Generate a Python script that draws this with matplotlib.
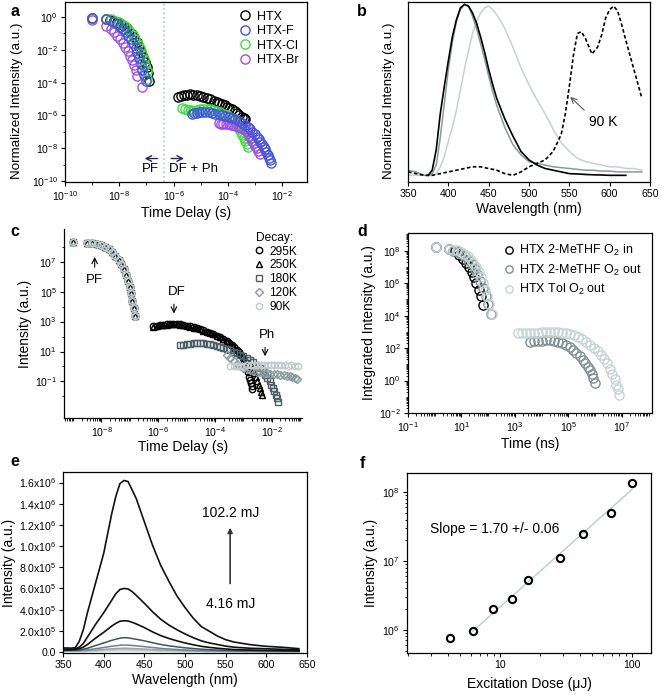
import numpy as np
import matplotlib
matplotlib.use("Agg")
import matplotlib.pyplot as plt
from matplotlib.ticker import FixedLocator, NullFormatter, LogLocator, FixedFormatter

plt.rcParams["font.family"] = ["Liberation Sans", "DejaVu Sans"]
plt.rcParams["mathtext.fontset"] = "custom"
plt.rcParams["mathtext.rm"] = "Liberation Sans"
plt.rcParams["mathtext.it"] = "Liberation Sans:italic"
plt.rcParams["mathtext.bf"] = "Liberation Sans:bold"
plt.rcParams["axes.linewidth"] = 0.9
plt.rcParams["xtick.labelsize"] = 7.6
plt.rcParams["ytick.labelsize"] = 7.6
plt.rcParams["xtick.major.size"] = 3
plt.rcParams["ytick.major.size"] = 3
plt.rcParams["xtick.minor.size"] = 1.8
plt.rcParams["ytick.minor.size"] = 1.8
plt.rcParams["xtick.major.pad"] = 2
plt.rcParams["ytick.major.pad"] = 2

LABEL = 10

# -----------------------------
# Panel a data (log10 time / log10 intensity), PF then DF+Ph
# -----------------------------
a_htx_t = [-8.99, -8.49, -8.34, -8.19, -8.07, -7.94, -7.82, -7.72, -7.63, -7.54, -7.45, -7.35, -7.27, -7.20, -7.11, -7.05, -6.99, -6.95, -6.90,
           -5.82, -5.72, -5.62, -5.51, -5.39, -5.27, -5.14, -5.02, -4.90, -4.78, -4.65, -4.52, -4.40, -4.31, -4.22, -4.12, -4.03, -3.94, -3.85, -3.75, -3.66, -3.57, -3.48, -3.42, -3.36]
a_htx_i = [-0.08, -0.12, -0.18, -0.24, -0.33, -0.43, -0.55, -0.69, -0.85, -1.04, -1.24, -1.50, -1.81, -2.11, -2.42, -2.72, -3.03, -3.40, -3.90,
           -4.86, -4.80, -4.76, -4.73, -4.72, -4.73, -4.76, -4.81, -4.86, -4.94, -5.02, -5.09, -5.16, -5.23, -5.30, -5.38, -5.47, -5.55, -5.63, -5.72, -5.83, -5.95, -6.08, -6.16, -6.24]

a_htxcl_t = [-8.99, -8.49, -8.30, -8.15, -8.02, -7.90, -7.78, -7.68, -7.59, -7.50, -7.41, -7.32, -7.24, -7.17, -7.10, -7.04, -6.99, -6.96,
             -5.70, -5.58, -5.45, -5.36, -5.27, -5.14, -5.02, -4.90, -4.77, -4.65, -4.53, -4.40, -4.28, -4.15, -4.03, -3.94, -3.85, -3.77, -3.69, -3.63, -3.57, -3.51, -3.46, -3.41, -3.36, -3.31, -3.27]
a_htxcl_i = [-0.05, -0.10, -0.15, -0.22, -0.32, -0.44, -0.58, -0.74, -0.92, -1.12, -1.35, -1.62, -1.92, -2.25, -2.58, -2.92, -3.30, -3.75,
             -5.57, -5.62, -5.67, -5.69, -5.71, -5.67, -5.63, -5.61, -5.59, -5.63, -5.67, -5.73, -5.79, -5.88, -5.98, -6.08, -6.18, -6.33, -6.48, -6.66, -6.85, -7.02, -7.20, -7.37, -7.54, -7.72, -7.91]

a_htxf_t = [-8.99, -8.49, -8.24, -8.09, -7.97, -7.85, -7.75, -7.66, -7.58, -7.48, -7.39, -7.33, -7.26, -7.20, -7.15, -7.08, -7.01,
            -5.33, -5.24, -5.14, -5.05, -4.96, -4.84, -4.71, -4.58, -4.46, -4.34, -4.22, -4.10, -3.97, -3.85, -3.73, -3.60, -3.48, -3.37, -3.27, -3.18, -3.09, -3.01, -2.93, -2.86, -2.80, -2.74, -2.68, -2.63, -2.58, -2.53, -2.49, -2.44, -2.39]
a_htxf_i = [-0.08, -0.12, -0.33, -0.43, -0.59, -0.75, -0.94, -1.14, -1.36, -1.61, -1.91, -2.22, -2.52, -2.87, -3.23, -3.54, -3.90,
            -5.88, -5.86, -5.83, -5.80, -5.77, -5.79, -5.81, -5.84, -5.88, -5.92, -5.96, -6.02, -6.08, -6.16, -6.24, -6.34, -6.44, -6.56, -6.69, -6.84, -6.99, -7.14, -7.30, -7.45, -7.60, -7.75, -7.91, -8.06, -8.21, -8.38, -8.56, -8.74, -8.92]

a_htxbr_t = [-8.99, -8.49, -8.31, -8.19, -8.07, -7.97, -7.87, -7.78, -7.69, -7.60, -7.52, -7.45, -7.39, -7.33, -7.17,
             -4.34, -4.25, -4.16, -4.06, -3.97, -3.88, -3.79, -3.70, -3.60, -3.51, -3.42, -3.34, -3.27, -3.21, -3.15, -3.09, -3.03, -2.98, -2.93, -2.88, -2.83]
a_htxbr_i = [-0.18, -0.55, -0.73, -0.94, -1.14, -1.34, -1.56, -1.81, -2.07, -2.36, -2.62, -2.93, -3.23, -3.60, -4.29,
             -6.48, -6.51, -6.54, -6.53, -6.52, -6.55, -6.59, -6.64, -6.69, -6.77, -6.85, -6.96, -7.09, -7.24, -7.40, -7.55, -7.70, -7.85, -8.01, -8.18, -8.35]

# -----------------------------
# Panel b data (normalized spectra)
# -----------------------------
b_wl = [350, 360, 370, 375, 380, 385, 390, 395, 400, 405, 410, 415, 420, 425, 430, 435, 440, 445, 450, 455, 460,
        470, 480, 490, 500, 510, 520, 530, 540, 550, 560, 570, 580, 590, 600, 610, 620, 630, 640]
b_black = [np.nan, np.nan, np.nan, 0.0, 0.03, 0.15, 0.36, 0.52, 0.67, 0.81, 0.91, 0.98, 1.0, 0.99, 0.95, 0.89, 0.81, 0.72, 0.62, 0.53, 0.45,
           0.33, 0.23, 0.14, 0.09, 0.06, 0.04, 0.03, 0.02, 0.01, 0.008, 0.005, 0.003, 0.002, 0.0, 0.0, 0.0, np.nan, np.nan]
b_gray = [0.03, 0.02, 0.0, 0.0, 0.01, 0.06, 0.22, 0.42, 0.62, 0.78, 0.90, 0.97, 1.0, 0.99, 0.93, 0.86, 0.77, 0.68, 0.58, 0.49, 0.41,
          0.28, 0.18, 0.12, 0.08, 0.07, 0.06, 0.05, 0.045, 0.04, 0.035, 0.03, 0.03, 0.025, 0.025, 0.02, 0.02, 0.02, 0.02]
b_light = [0.0, 0.0, 0.0, 0.0, 0.0, 0.01, 0.05, 0.11, 0.20, 0.28, 0.38, 0.50, 0.62, 0.73, 0.83, 0.90, 0.95, 0.98, 0.99, 0.97, 0.94,
           0.86, 0.75, 0.63, 0.53, 0.44, 0.36, 0.27, 0.19, 0.14, 0.10, 0.08, 0.07, 0.06, 0.05, 0.05, 0.04, 0.04, 0.03]
b_90k_wl = [350, 360, 370, 380, 390, 400, 410, 420, 430, 440, 450, 460, 470, 480, 490, 500, 510, 520, 530, 540, 545, 550, 555,
            560, 565, 570, 578, 585, 590, 595, 600, 605, 610, 615, 620, 630, 640]
b_90k = [0.02, 0.01, 0.0, 0.0, 0.01, 0.02, 0.03, 0.04, 0.05, 0.05, 0.04, 0.03, 0.01, 0.0, 0.02, 0.05, 0.07, 0.09, 0.14, 0.24, 0.36, 0.52, 0.70,
         0.83, 0.84, 0.80, 0.71, 0.75, 0.82, 0.92, 0.97, 0.99, 0.96, 0.88, 0.79, 0.62, 0.45]

# -----------------------------
# Panel c data (log10)
# -----------------------------
c_pf_t = [-9.00, -8.51, -8.32, -8.15, -8.00, -7.87, -7.74, -7.62, -7.51, -7.40, -7.31, -7.22, -7.14, -7.07, -7.01, -6.95, -6.91, -6.86, -6.82]
c_pf_i = [8.33, 8.27, 8.22, 8.18, 8.11, 8.00, 7.84, 7.64, 7.40, 7.11, 6.82, 6.49, 6.11, 5.73, 5.33, 4.89, 4.40, 3.89, 3.38]

c_295_t = [-6.18, -6.06, -5.94, -5.82, -5.71, -5.59, -5.47, -5.35, -5.24, -5.12, -5.00, -4.88, -4.76, -4.65, -4.53, -4.41, -4.29, -4.18, -4.06, -3.94,
           -3.82, -3.71, -3.59, -3.50, -3.41, -3.32, -3.24, -3.16, -3.09, -3.03, -2.98, -2.93, -2.88, -2.84, -2.80, -2.77, -2.74, -2.71, -2.69]
c_295_i = [2.67, 2.73, 2.78, 2.80, 2.82, 2.83, 2.84, 2.83, 2.82, 2.77, 2.71, 2.67, 2.62, 2.56, 2.49, 2.41, 2.33, 2.25, 2.16, 2.06,
           1.96, 1.84, 1.71, 1.58, 1.44, 1.28, 1.11, 0.95, 0.78, 0.55, 0.33, 0.11, -0.11, -0.39, -0.67, -0.89, -1.11, -1.31, -1.51]

c_250_t = [-6.18, -6.06, -5.94, -5.82, -5.71, -5.59, -5.47, -5.35, -5.24, -5.12, -5.00, -4.88, -4.76, -4.65, -4.53, -4.41, -4.29, -4.18, -4.06, -3.94,
           -3.82, -3.71, -3.59, -3.50, -3.41, -3.32, -3.24, -3.16, -3.09, -3.00, -2.91, -2.82, -2.74, -2.68, -2.62, -2.56, -2.51, -2.46, -2.42, -2.38, -2.35]
c_250_i = [2.62, 2.70, 2.75, 2.78, 2.80, 2.81, 2.82, 2.81, 2.80, 2.75, 2.70, 2.65, 2.60, 2.54, 2.47, 2.39, 2.31, 2.22, 2.14, 2.04,
           1.94, 1.82, 1.69, 1.56, 1.42, 1.26, 1.10, 0.99, 0.89, 0.70, 0.44, 0.22, 0.0, -0.22, -0.44, -0.72, -1.00, -1.22, -1.45, -1.70, -1.93]

c_180_t = [-5.24, -5.12, -5.00, -4.88, -4.76, -4.65, -4.53, -4.41, -4.29, -4.18, -4.06, -3.94, -3.82, -3.71, -3.59, -3.47, -3.35, -3.24,
           -3.12, -3.00, -2.88, -2.77, -2.65, -2.53, -2.41, -2.32, -2.24, -2.16, -2.08, -2.02, -1.96, -1.91, -1.87, -1.83, -1.80]
c_180_i = [1.44, 1.46, 1.49, 1.53, 1.56, 1.56, 1.56, 1.54, 1.51, 1.48, 1.44, 1.39, 1.33, 1.26, 1.18, 1.09, 1.00, 0.89,
           0.78, 0.67, 0.56, 0.42, 0.27, 0.08, -0.11, -0.33, -0.56, -0.78, -1.00, -1.22, -1.44, -1.67, -1.89, -2.13, -2.38]

c_120_t = [-3.59, -3.47, -3.35, -3.24, -3.12, -3.00, -2.88, -2.77, -2.65, -2.53, -2.41, -2.29, -2.18, -2.06, -1.94, -1.82, -1.71, -1.59, -1.47, -1.38, -1.29, -1.20, -1.12]
c_120_i = [0.75, 0.55, 0.35, 0.15, 0.02, -0.10, -0.18, -0.24, -0.29, -0.34, -0.38, -0.41, -0.44, -0.47, -0.49, -0.52, -0.56, -0.59, -0.62, -0.66, -0.71, -0.76, -0.82]

c_90_t = [-3.47, -3.35, -3.23, -3.11, -2.99, -2.87, -2.75, -2.63, -2.51, -2.39, -2.27, -2.15, -2.03, -1.91, -1.79, -1.67, -1.55, -1.43, -1.31, -1.19, -1.07]
c_90_i = [0.05, 0.05, 0.06, 0.05, 0.06, 0.07, 0.08, 0.10, 0.10, 0.09, 0.10, 0.08, 0.07, 0.08, 0.07, 0.08, 0.07, 0.06, 0.07, 0.05, 0.05]

# -----------------------------
# Panel d data (log10 ns / log10 intensity)
# -----------------------------
d_in_t = [0.03, 0.54, 0.75, 0.91, 1.04, 1.16, 1.28, 1.38, 1.46, 1.56, 1.65, 1.73, 1.79]
d_in_i = [8.21, 8.12, 7.96, 7.75, 7.51, 7.24, 6.97, 6.68, 6.35, 6.00, 5.59, 5.18, 4.63]

d_out_t = [0.03, 0.54, 0.70, 0.86, 1.00, 1.13, 1.26, 1.38, 1.50, 1.60, 1.70, 1.80, 1.90, 2.00, 2.12,
           3.55, 3.70, 3.85, 4.00, 4.15, 4.30, 4.45, 4.60, 4.75, 4.90, 5.05, 5.18, 5.30, 5.42, 5.53, 5.63, 5.72, 5.80, 5.87, 5.93, 6.00]
d_out_i = [8.20, 8.10, 8.00, 7.90, 7.80, 7.65, 7.45, 7.20, 6.90, 6.55, 6.15, 5.70, 5.20, 4.70, 4.10,
           2.40, 2.42, 2.45, 2.44, 2.47, 2.48, 2.45, 2.40, 2.32, 2.20, 2.05, 1.88, 1.70, 1.50, 1.28, 1.06, 0.85, 0.62, 0.40, 0.15, -0.15]

d_tol_t = [0.03, 0.54, 0.69, 0.84, 0.98, 1.10, 1.23, 1.34, 1.44, 1.54, 1.64, 1.73, 1.81, 1.89, 1.96, 2.04, 2.15,
           3.10, 3.25, 3.40, 3.55, 3.70, 3.85, 4.00, 4.15, 4.30, 4.45, 4.60, 4.75, 4.90, 5.05, 5.20, 5.35, 5.50, 5.65,
           5.80, 5.95, 6.10, 6.22, 6.33, 6.45, 6.56, 6.65, 6.73, 6.80, 6.85, 6.88]
d_tol_i = [8.21, 8.12, 8.06, 8.02, 7.92, 7.79, 7.65, 7.44, 7.24, 6.97, 6.68, 6.35, 6.00, 5.59, 5.18, 4.71, 4.09,
           2.90, 2.93, 2.92, 2.95, 2.93, 2.95, 2.96, 2.97, 2.96, 3.00, 2.97, 2.95, 2.90, 2.84, 2.78, 2.68, 2.55, 2.38,
           2.20, 2.02, 1.82, 1.60, 1.35, 1.05, 0.74, 0.40, 0.08, -0.25, -0.55, -0.91]

# -----------------------------
# Panel e data (x1e5 a.u.)
# -----------------------------
e_wl = [350, 360, 365, 370, 375, 380, 385, 390, 400, 410, 415, 420, 425, 430, 435, 440, 450, 460, 470, 480,
        490, 500, 510, 520, 530, 540, 550, 560, 580, 600, 620, 640]
e_102 = [0.38, 0.36, 0.40, 1.0, 2.1, 3.7, 5.1, 6.5, 9.3, 13.1, 14.7, 15.9, 16.2, 16.1, 15.3, 14.5, 12.3, 10.1, 8.2, 6.7,
         5.3, 4.2, 3.2, 2.4, 1.95, 1.5, 1.16, 0.94, 0.69, 0.53, 0.44, 0.31]
e_70 = [0.25, 0.25, 0.28, 0.45, 0.8, 1.4, 2.0, 2.6, 3.7, 4.9, 5.5, 5.9, 6.0, 5.95, 5.7, 5.35, 4.6, 3.8, 3.1, 2.55,
        2.1, 1.7, 1.35, 1.05, 0.85, 0.7, 0.55, 0.45, 0.35, 0.3, 0.25, 0.2]
e_42 = [0.2, 0.2, 0.22, 0.3, 0.45, 0.7, 1.0, 1.3, 1.85, 2.45, 2.7, 2.9, 2.95, 2.92, 2.8, 2.65, 2.3, 1.9, 1.55, 1.28,
        1.05, 0.85, 0.68, 0.53, 0.43, 0.35, 0.28, 0.23, 0.18, 0.15, 0.12, 0.1]
e_wl_low = [350, 370, 380, 390, 400, 410, 420, 425, 430, 440, 450, 460, 470, 480, 500, 520, 540, 560, 600, 640]
e_28 = [0.15, 0.18, 0.35, 0.6, 0.85, 1.1, 1.3, 1.35, 1.33, 1.2, 1.05, 0.87, 0.71, 0.58, 0.39, 0.26, 0.18, 0.14, 0.1, 0.08]
e_16 = [0.12, 0.13, 0.2, 0.3, 0.42, 0.54, 0.63, 0.65, 0.64, 0.58, 0.5, 0.42, 0.34, 0.28, 0.19, 0.13, 0.1, 0.08, 0.06, 0.05]
e_12 = [0.1, 0.1, 0.13, 0.18, 0.24, 0.3, 0.34, 0.35, 0.345, 0.31, 0.27, 0.23, 0.19, 0.16, 0.11, 0.08, 0.06, 0.05, 0.04, 0.03]
e_9 = [0.08, 0.08, 0.1, 0.13, 0.17, 0.21, 0.235, 0.24, 0.235, 0.21, 0.185, 0.16, 0.13, 0.11, 0.08, 0.06, 0.05, 0.04, 0.03, 0.03]
e_6 = [0.05, 0.05, 0.06, 0.07, 0.09, 0.1, 0.11, 0.11, 0.11, 0.1, 0.09, 0.08, 0.07, 0.06, 0.05, 0.04, 0.03, 0.03, 0.02, 0.02]
e_4 = [0.03, 0.03, 0.04, 0.05, 0.06, 0.08, 0.09, 0.09, 0.09, 0.08, 0.07, 0.06, 0.05, 0.05, 0.04, 0.03, 0.03, 0.02, 0.02, 0.02]

# -----------------------------
# Panel f data
# -----------------------------
f_dose = [4.2, 6.2, 8.8, 12.3, 16.4, 28.2, 42.2, 69.7, 100.0]
f_int = [7.7e5, 9.5e5, 2.0e6, 2.8e6, 5.3e6, 1.12e7, 2.44e7, 5.0e7, 1.37e8]

W, H = 661, 694
fig = plt.figure(figsize=(W / 100, H / 100), dpi=100)


def box(l, t, r, b):
    return [l / W, 1 - b / H, (r - l) / W, (b - t) / H]


def decades(lo, hi):
    return [10.0 ** k for k in range(lo, hi + 1)]


def p10(v):
    return 10.0 ** np.array(v)


# ---------- a ----------
ax = fig.add_axes(box(65, 2, 307, 182))
ax.set_xscale("log")
ax.set_yscale("log")
mk = dict(ls="none", marker="o", ms=6.6, mfc="none", mew=1.0)
ax.plot(p10(a_htx_t), p10(a_htx_i), mec="black", label="HTX", **mk)
ax.plot(p10(a_htxcl_t), p10(a_htxcl_i), mec="#3ee03e", label="HTX-Cl", **mk)
ax.plot(p10(a_htxbr_t), p10(a_htxbr_i), mec="#a24ee6", label="HTX-Br", **mk)
ax.plot(p10(a_htxf_t), p10(a_htxf_i), mec="#4455dd", label="HTX-F", **mk)
ax.axvline(4.3e-7, color="#a9c9d2", ls=":", lw=1.2)
ax.annotate("", xy=(10 ** -7.17, 10 ** -8.62), xytext=(10 ** -6.49, 10 ** -8.62),
            arrowprops=dict(arrowstyle="->", color="#1d2b66", lw=1.0))
ax.annotate("", xy=(10 ** -5.51, 10 ** -8.62), xytext=(10 ** -6.19, 10 ** -8.62),
            arrowprops=dict(arrowstyle="->", color="#1d2b66", lw=1.0))
ax.text(10 ** -6.86, 10 ** -9.25, "PF", ha="center", va="center", fontsize=9.5)
ax.text(10 ** -6.15, 10 ** -9.25, "DF + Ph", ha="left", va="center", fontsize=9.5)
ax.set_xlim(1e-10, 10 ** -1.08)
ax.set_ylim(10 ** -10.05, 10 ** 0.91)
ax.xaxis.set_major_locator(FixedLocator(decades(-10, -2)[::2]))
ax.xaxis.set_minor_locator(FixedLocator(decades(-9, -1)[::2]))
ax.yaxis.set_major_locator(FixedLocator(decades(-10, 0)[::2]))
ax.yaxis.set_minor_locator(FixedLocator(decades(-9, 0)[::2]))
ax.xaxis.set_minor_formatter(NullFormatter())
ax.yaxis.set_minor_formatter(NullFormatter())
ax.set_xlabel("Time Delay (s)", fontsize=LABEL, labelpad=2)
ax.set_ylabel("Normalized Intensity (a.u.)", fontsize=9.6)
ax.yaxis.set_label_coords(-0.175, 0.45)
h, l = ax.get_legend_handles_labels()
order = [0, 3, 1, 2]
ax.legend([h[i] for i in order], [l[i] for i in order], loc="upper right", frameon=False, fontsize=9,
          labelspacing=0.2, handletextpad=0.3, borderaxespad=0.3, handlelength=1.2)

# ---------- b ----------
ax = fig.add_axes(box(408, 2, 650, 182))
ax.plot(b_wl, b_light, color="#c8d0d0", lw=1.1)
ax.plot(b_wl, b_gray, color="#8a989c", lw=1.1)
ax.plot(b_wl, b_black, color="black", lw=1.2)
ax.plot(b_90k_wl, b_90k, color="black", lw=1.2, ls=(0, (2.2, 1.4)))
ax.annotate("", xy=(548.6, 0.47), xytext=(571, 0.37),
            arrowprops=dict(arrowstyle="->", color="#555555", lw=0.8))
ax.text(592, 0.31, "90 K", ha="center", va="center", fontsize=10)
ax.set_xlim(350, 650)
ax.set_ylim(-0.039, 1.014)
ax.set_xticks(range(350, 651, 50))
ax.set_yticks([])
ax.set_xlabel("Wavelength (nm)", fontsize=LABEL, labelpad=2)
ax.set_ylabel("Normalized Intensity (a.u.)", fontsize=9.6)
ax.yaxis.set_label_coords(-0.055, 0.45)

# ---------- c ----------
ax = fig.add_axes(box(64, 229, 302, 418))
ax.set_xscale("log")
ax.set_yscale("log")
temps = [
    ("295K", c_295_t, c_295_i, "o", "black", 4.6),
    ("250K", c_250_t, c_250_i, "^", "black", 5.0),
    ("180K", c_180_t, c_180_i, "s", "#4d6068", 4.4),
    ("120K", c_120_t, c_120_i, "D", "#899a9f", 4.2),
    ("90K", c_90_t, c_90_i, "h", "#c2ccce", 5.0),
]
for name, tt, ii, m, col, ms in temps:
    ax.plot(p10(c_pf_t + tt), p10(c_pf_i + ii), ls="none", marker=m, ms=ms, mfc="none", mec=col, mew=1.0, label=name)
ax.annotate("", xy=(10 ** -8.24, 10 ** 7.5), xytext=(10 ** -8.24, 10 ** 6.45),
            arrowprops=dict(arrowstyle="->", color="black", lw=0.8))
ax.text(10 ** -8.24, 10 ** 5.75, "PF", ha="center", va="center", fontsize=9.5)
ax.annotate("", xy=(10 ** -5.45, 10 ** 3.35), xytext=(10 ** -5.45, 10 ** 4.35),
            arrowprops=dict(arrowstyle="->", color="black", lw=0.8))
ax.text(10 ** -5.35, 10 ** 5.0, "DF", ha="center", va="center", fontsize=9.5)
ax.annotate("", xy=(10 ** -2.24, 10 ** 0.5), xytext=(10 ** -2.24, 10 ** 1.45),
            arrowprops=dict(arrowstyle="->", color="black", lw=0.8))
ax.text(10 ** -2.18, 10 ** 2.1, "Ph", ha="center", va="center", fontsize=9.5)
ax.set_xlim(10 ** -9.32, 10 ** -0.94)
ax.set_ylim(10 ** -3.44, 10 ** 9.18)
ax.spines["top"].set_visible(False)
ax.spines["right"].set_visible(False)
ax.xaxis.set_major_locator(FixedLocator(decades(-8, -2)[::2]))
ax.xaxis.set_minor_locator(LogLocator(base=10, subs=np.arange(1, 10), numticks=30))
ax.yaxis.set_major_locator(FixedLocator(decades(-1, 7)[::2]))
ax.yaxis.set_minor_locator(FixedLocator(decades(-3, 8)[1::2]))
ax.xaxis.set_minor_formatter(NullFormatter())
ax.yaxis.set_minor_formatter(NullFormatter())
ax.tick_params(which="minor", length=1.8)
ax.set_xlabel("Time Delay (s)", fontsize=LABEL, labelpad=1)
ax.set_ylabel("Intensity (a.u.)", fontsize=LABEL, labelpad=2)
ax.legend(loc="upper right", frameon=False, fontsize=8.6, title="Decay:", title_fontsize=8.6,
          labelspacing=0.15, handletextpad=0.4, borderaxespad=0.0, handlelength=1.0,
          bbox_to_anchor=(1.0, 1.01))

# ---------- d ----------
ax = fig.add_axes(box(408, 233, 652, 413))
ax.set_xscale("log")
ax.set_yscale("log")
mk = dict(ls="none", marker="o", ms=6.6, mfc="none", mew=1.0)
ax.plot(p10(d_in_t), p10(d_in_i), mec="black", label="HTX 2-MeTHF O$_2$ in", **mk)
ax.plot(p10(d_out_t), p10(d_out_i), mec="#7e9094", label="HTX 2-MeTHF O$_2$ out", **mk)
ax.plot(p10(d_tol_t), p10(d_tol_i), mec="#c5d3d3", label="HTX Tol O$_2$ out", **mk)
ax.set_xlim(10 ** -1, 10 ** 8.13)
ax.set_ylim(10 ** -2, 10 ** 9.09)
ax.xaxis.set_major_locator(FixedLocator(decades(-1, 7)[::2]))
ax.xaxis.set_minor_locator(LogLocator(base=10, subs=np.arange(1, 10), numticks=30))
ax.yaxis.set_major_locator(FixedLocator(decades(-2, 8)[::2]))
ax.yaxis.set_minor_locator(LogLocator(base=10, subs=np.arange(1, 10), numticks=30))
ax.xaxis.set_minor_formatter(NullFormatter())
ax.yaxis.set_minor_formatter(NullFormatter())
ax.set_xlabel("Time (ns)", fontsize=LABEL, labelpad=2)
ax.set_ylabel("Integrated Intensity (a.u.)", fontsize=LABEL, labelpad=2)
ax.legend(loc="upper right", frameon=False, fontsize=9, labelspacing=0.35, handletextpad=0.3,
          borderaxespad=0.4, handlelength=1.0, markerscale=0.8)

# ---------- e ----------
ax = fig.add_axes(box(63, 472, 307, 653))
low_cols = ["#e2eaeb", "#cfdadc", "#b3c3c7", "#95a8ad", "#6d8288", "#3d545d"]
for vals, col in zip([e_4, e_6, e_9, e_12, e_16, e_28], low_cols):
    ax.plot(e_wl_low, np.array(vals) * 1e5, color=col, lw=1.1)
for vals in [e_42, e_70, e_102]:
    ax.plot(e_wl, np.array(vals) * 1e5, color="#111111", lw=1.2)
ax.annotate("", xy=(555.5, 1.2e6), xytext=(555.5, 6.2e5),
            arrowprops=dict(arrowstyle="-|>", color="#333333", lw=1.2, mutation_scale=7))
ax.text(555.5, 1.31e6, "102.2 mJ", ha="center", va="center", fontsize=10)
ax.text(555.5, 4.5e5, "4.16 mJ", ha="center", va="center", fontsize=10)
ax.set_xlim(350, 650)
ax.set_ylim(-1e4, 1.70e6)
ax.set_xticks(range(350, 651, 50))
e_ticks = [0, 2e5, 4e5, 6e5, 8e5, 1e6, 1.2e6, 1.4e6, 1.6e6]
e_labels = ["0.0", "2.0x10$^5$", "4.0x10$^5$", "6.0x10$^5$", "8.0x10$^5$",
            "1.0x10$^6$", "1.2x10$^6$", "1.4x10$^6$", "1.6x10$^6$"]
ax.set_yticks(e_ticks)
ax.set_yticklabels(e_labels)
ax.set_xlabel("Wavelength (nm)", fontsize=LABEL, labelpad=2)
ax.set_ylabel("Intensity (a.u.)", fontsize=LABEL, labelpad=2)

# ---------- f ----------
ax = fig.add_axes(box(407, 473, 651, 653))
ax.set_xscale("log")
ax.set_yscale("log")
fit = np.polyfit(np.log10(f_dose[1:]), np.log10(f_int[1:]), 1)
fx = np.array([f_dose[1], f_dose[-1]])
ax.plot(fx, 10 ** np.polyval(fit, np.log10(fx)), color="#b9ccd0", lw=1.0)
ax.plot(f_dose, f_int, ls="none", marker="o", ms=5.2, mfc="none", mec="black", mew=1.5)
ax.text(2.95, 10 ** 7.47, "Slope = 1.70 +/- 0.06", ha="left", va="center", fontsize=10)
ax.set_xlim(1.97, 139)
ax.set_ylim(4.6e5, 1.9e8)
ax.xaxis.set_major_locator(FixedLocator([10, 100]))
ax.xaxis.set_major_formatter(FixedFormatter(["10", "100"]))
ax.xaxis.set_minor_formatter(NullFormatter())
ax.yaxis.set_minor_formatter(NullFormatter())
ax.set_xlabel("Excitation Dose (μJ)", fontsize=LABEL, labelpad=5)
ax.set_ylabel("Intensity (a.u.)", fontsize=LABEL, labelpad=3)

for x, y, s in [(15, 12, "a"), (362, 12, "b"), (15, 232, "c"), (362, 232, "d"), (15, 462, "e"), (362, 464, "f")]:
    fig.text(x / W, 1 - y / H, s, fontsize=11.5, fontweight="bold", ha="center", va="center")

fig.savefig("out.png", dpi=100)
